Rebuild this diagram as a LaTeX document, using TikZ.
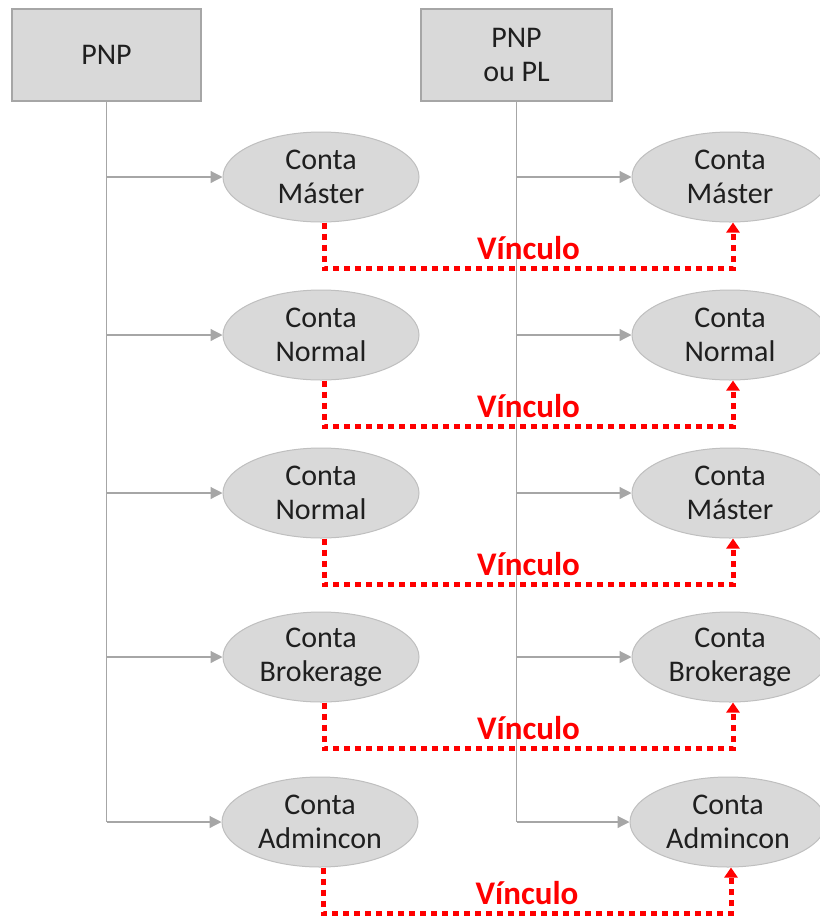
\documentclass[tikz,border=0pt]{standalone}
\usepackage{fontspec}
\setmainfont{Carlito}
\usetikzlibrary{arrows.meta,shapes.geometric,calc}
\definecolor{boxfill}{HTML}{D9D9D9}
\definecolor{boxline}{HTML}{A6A6A6}
\definecolor{ellline}{HTML}{BFBFBF}
\definecolor{connline}{HTML}{A6A6A6}
\definecolor{txt}{HTML}{1F1F1F}
\tikzset{
  topbox/.style={draw=boxline,line width=1.2pt,fill=boxfill,minimum width=189pt,minimum height=92pt,inner sep=0pt,align=center,text=txt,font=\fontsize{30}{34}\selectfont},
  acct/.style={ellipse,draw=ellline,line width=1pt,fill=boxfill,minimum width=196pt,minimum height=90pt,inner sep=0pt,align=center,text=txt,font=\fontsize{30}{34}\selectfont},
  conn/.style={draw=connline,line width=1.2pt,-{Triangle[length=12pt,width=12pt]}},
  connplain/.style={draw=connline,line width=1.2pt},
  link/.style={draw=red,line width=5pt,dash pattern=on 6pt off 5pt,-{Triangle[length=10pt,width=13pt]}},
  linklabel/.style={text=red,font=\bfseries\fontsize{33}{34}\selectfont,inner sep=2pt}
}
\begin{document}
\begin{tikzpicture}[x=1pt,y=-1pt]
\useasboundingbox (0,0) rectangle (820,922);
\node[topbox] (pnp) at (106.5,55) {PNP};
\node[topbox,minimum width=191pt] (pl) at (516.5,55) {PNP\\ou PL};

\node[acct] (l1) at (321,177) {Conta\\Máster};
\node[acct] (l2) at (321,335) {Conta\\Normal};
\node[acct] (l3) at (321,493) {Conta\\Normal};
\node[acct] (l4) at (321,657) {Conta\\Brokerage};
\node[acct] (l5) at (320,822) {Conta\\Admincon};

\node[acct] (r1) at (730,177) {Conta\\Máster};
\node[acct] (r2) at (730,335) {Conta\\Normal};
\node[acct] (r3) at (730,493) {Conta\\Máster};
\node[acct] (r4) at (730,657) {Conta\\Brokerage};
\node[acct] (r5) at (728,822) {Conta\\Admincon};

% left tree
\draw[connplain] (pnp.south) -- (pnp.south |- l5.west);
\foreach \n in {l1,l2,l3,l4,l5}
  \draw[conn] (pnp.south |- \n.west) -- (\n.west);
% right tree
\draw[connplain] (pl.south) -- (pl.south |- r5.west);
\foreach \n in {r1,r2,r3,r4,r5}
  \draw[conn] (pl.south |- \n.west) -- (\n.west);

% links
\foreach \a/\b in {l1/r1,l2/r2,l3/r3,l4/r4,l5/r5}{
  \draw[link] ([xshift=3pt]\a.south) -- ++(0,46) coordinate (h\a) -| ([xshift=3pt]\b.south);
  \node[linklabel,anchor=south] at ($(h\a)!0.5!([xshift=3pt]\b.south |- h\a)+(0,-7)$) {Vínculo};
}
\end{tikzpicture}
\end{document}
